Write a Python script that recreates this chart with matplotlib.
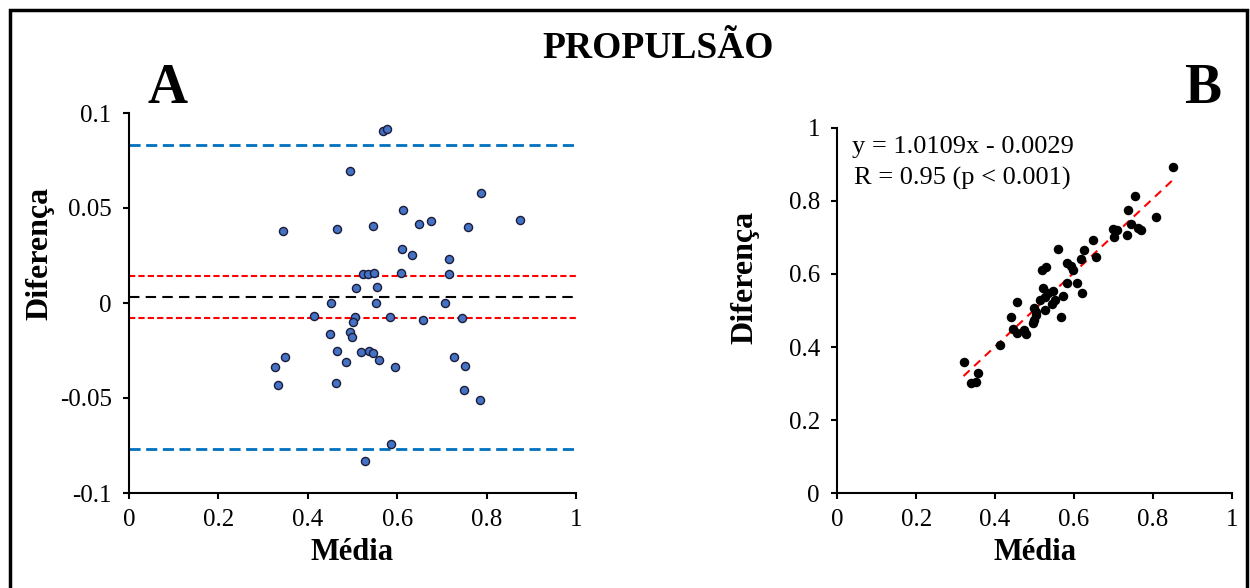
import matplotlib
matplotlib.use("Agg")
import matplotlib.pyplot as plt
from matplotlib.patches import Rectangle
import numpy as np

plt.rcParams['font.family'] = ['Liberation Serif', 'DejaVu Serif']

# ---------------- Data ----------------
# Panel A (Bland-Altman): mean vs difference
ba_mean = [0.494, 0.345, 0.465, 0.569, 0.578, 0.787, 0.612, 0.546, 0.649, 0.676,
           0.759, 0.875, 0.611, 0.633, 0.715, 0.524, 0.534, 0.548, 0.609, 0.717,
           0.508, 0.554, 0.453, 0.414, 0.506, 0.502, 0.450, 0.494, 0.499, 0.466,
           0.518, 0.486, 0.348, 0.326, 0.334, 0.462, 0.553, 0.706, 0.583, 0.657,
           0.744, 0.537, 0.545, 0.560, 0.595, 0.726, 0.751, 0.750, 0.785, 0.587,
           0.528]
ba_diff = [0.0695, 0.0378, 0.0392, 0.0907, 0.0917, 0.0579, 0.0491, 0.0407, 0.0415, 0.0433,
           0.0400, 0.0436, 0.0282, 0.0254, 0.0232, 0.0151, 0.0151, 0.0158, 0.0158, 0.0155,
           0.0079, 0.0086, -0.0002, -0.0067, -0.0076, -0.0099, -0.0164, -0.0155, -0.0180, -0.0254,
           -0.0257, -0.0308, -0.0282, -0.0338, -0.0430, -0.0419, -0.0002, -0.0002, -0.0072, -0.0087,
           -0.0081, -0.0254, -0.0263, -0.0301, -0.0335, -0.0284, -0.0330, -0.0456, -0.0511, -0.0743,
           -0.0831]
bias = 0.0032
loa_upper, loa_lower = 0.0831, -0.0768
ci_upper, ci_lower = 0.0144, -0.0078

# Panel B (correlation)
b_x = [0.851, 0.755, 0.736, 0.808, 0.744, 0.763, 0.769, 0.698, 0.708, 0.702,
       0.734, 0.649, 0.625, 0.559, 0.656, 0.618, 0.583, 0.593, 0.597, 0.528,
       0.520, 0.583, 0.609, 0.621, 0.572, 0.522, 0.546, 0.535, 0.513, 0.527,
       0.552, 0.544, 0.527, 0.499, 0.503, 0.503, 0.499, 0.566, 0.455, 0.441,
       0.446, 0.455, 0.474, 0.478, 0.413, 0.320, 0.357, 0.338, 0.351, 0.497]
b_y = [0.893, 0.812, 0.774, 0.756, 0.737, 0.727, 0.720, 0.723, 0.721, 0.702,
       0.706, 0.693, 0.665, 0.668, 0.647, 0.641, 0.630, 0.621, 0.611, 0.619,
       0.610, 0.574, 0.574, 0.547, 0.541, 0.562, 0.552, 0.547, 0.529, 0.537,
       0.529, 0.518, 0.501, 0.508, 0.495, 0.488, 0.474, 0.481, 0.523, 0.481,
       0.449, 0.438, 0.448, 0.435, 0.406, 0.360, 0.329, 0.303, 0.305, 0.467]
fit_slope, fit_intercept = 1.0109, -0.0029
fit_range = [0.32, 0.85]

a_xticks = [0, 0.2, 0.4, 0.6, 0.8, 1]
a_xticklabels = ['0', '0.2', '0.4', '0.6', '0.8', '1']
a_yticks = [-0.1, -0.05, 0, 0.05, 0.1]
a_yticklabels = ['-0.1', '-0.05', '0', '0.05', '0.1']
b_ticks = [0, 0.2, 0.4, 0.6, 0.8, 1]
b_ticklabels = ['0', '0.2', '0.4', '0.6', '0.8', '1']

# ---------------- Figure ----------------
W, H = 1250, 588
fig = plt.figure(figsize=(W / 100, H / 100), dpi=100)


def fx(px):
    return px / W


def fy(py):
    return 1 - py / H


tick_fs = 18

# Panel A axes
axA = fig.add_axes([fx(129), fy(493), fx(576) - fx(129), fy(113) - fy(493)])
axA.plot([0, 1], [loa_upper, loa_upper], color='#0070C0', lw=2, dashes=(4, 2))
axA.plot([0, 1], [loa_lower, loa_lower], color='#0070C0', lw=2, dashes=(4, 2))
axA.plot([0, 1], [ci_upper, ci_upper], color='#FF0000', lw=1.5, dashes=(3, 1.5))
axA.plot([0, 1], [ci_lower, ci_lower], color='#FF0000', lw=1.5, dashes=(3, 1.5))
axA.plot([0, 1], [bias, bias], color='black', lw=1.5, dashes=(5, 3))
axA.scatter(ba_mean, ba_diff, s=34, facecolor='#4472C4', edgecolor='#1c1c3a',
            linewidth=1.0, zorder=5)
axA.set_xlim(0, 1)
axA.set_ylim(-0.1, 0.1)
axA.set_xticks(a_xticks)
axA.set_xticklabels(a_xticklabels)
axA.set_yticks(a_yticks)
axA.set_yticklabels(a_yticklabels)

# Panel B axes
axB = fig.add_axes([fx(837.3), fy(493.3), fx(1231.7) - fx(837.3), fy(127.7) - fy(493.3)])
axB.scatter(b_x, b_y, s=34, color='black', zorder=5)
fx_line = np.array(fit_range)
axB.plot(fx_line, fit_slope * fx_line + fit_intercept, color='#FF0000', lw=1.5,
         dashes=(4, 3))
axB.set_xlim(0, 1)
axB.set_ylim(0, 1)
axB.set_xticks(b_ticks)
axB.set_xticklabels(b_ticklabels)
axB.set_yticks(b_ticks)
axB.set_yticklabels(b_ticklabels)

for ax in (axA, axB):
    ax.spines['top'].set_visible(False)
    ax.spines['right'].set_visible(False)
    for s in ('left', 'bottom'):
        ax.spines[s].set_linewidth(1.5)
        ax.spines[s].set_color('black')
    ax.tick_params(direction='out', length=4.5, width=1.5, labelsize=tick_fs,
                   colors='black')
    ax.tick_params(axis='y', pad=8)
    ax.tick_params(axis='x', pad=7)
    ax.set_facecolor('none')

# Equation text
fig.text(fx(852), fy(147), 'y = 1.0109x - 0.0029', fontsize=19, ha='left', va='center')
fig.text(fx(854), fy(178), 'R = 0.95 (p < 0.001)', fontsize=19, ha='left', va='center')

# Titles / labels
fig.text(fx(658), fy(48), 'PROPULSÃO', fontsize=27, fontweight='bold', ha='center', va='center')
fig.text(fx(167), fy(89), 'A', fontsize=40, fontweight='bold', ha='center', va='center')
fig.text(fx(1203), fy(89), 'B', fontsize=40, fontweight='bold', ha='center', va='center')
fig.text(fx(40), fy(253), 'Diferença', fontsize=23, fontweight='bold', rotation=90,
         ha='center', va='center')
fig.text(fx(745), fy(277), 'Diferença', fontsize=23, fontweight='bold', rotation=90,
         ha='center', va='center')
fig.text(fx(352), fy(553), 'Média', fontsize=22, fontweight='bold', ha='center', va='center')
fig.text(fx(1035), fy(553), 'Média', fontsize=22, fontweight='bold', ha='center', va='center')

# Outer frame
fig.patches.append(Rectangle((fx(10), -0.05), fx(1247) - fx(10), fy(10) + 0.05,
                             transform=fig.transFigure, fill=False, edgecolor='black',
                             linewidth=2.5))

fig.savefig('out.png', dpi=100)
